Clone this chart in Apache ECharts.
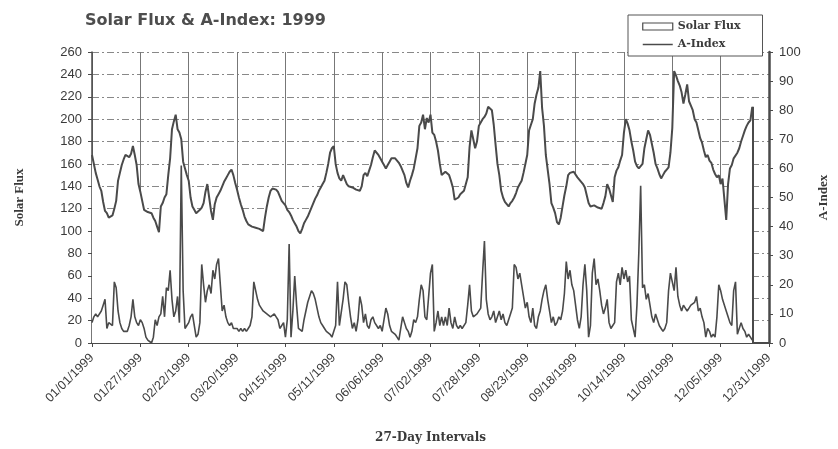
<!DOCTYPE html>
<html>
<head>
<meta charset="utf-8">
<script src="https://cdn.jsdelivr.net/npm/echarts@6/dist/echarts.min.js"></script>
<style>html,body{margin:0;padding:0;background:#fff}#c{width:838px;height:449px}</style>
</head>
<body>
<div id="c"></div>
<script>
// Categories: every day of 1999
const dates = [];
for (let i = 0; i < 365; i++) {
  const d = new Date(Date.UTC(1999, 0, 1 + i));
  const mm = String(d.getUTCMonth() + 1).padStart(2, '0');
  const dd = String(d.getUTCDate()).padStart(2, '0');
  dates.push(mm + '/' + dd + '/1999');
}

// Daily 10.7 cm solar flux (left axis), Jan 1 .. Dec 22
const solarFlux = [
168,160,152,146,140,136,126,118,116,112,113,114,120,127,145,152,159,164,168,167,
166,169,176,168,159,142,135,127,119,118,117,117,116,112,109,104,99,122,125,130,
133,150,165,191,198,204,191,188,182,162,156,150,145,130,122,119,116,117,119,121,
125,135,142,130,118,110,124,130,133,136,140,144,147,150,153,155,150,143,137,130,
124,119,113,109,106,105,104,104,103,103,102,101,100,112,122,130,136,138,139,137,
135,131,127,125,123,119,117,114,110,107,104,100,98,102,107,110,113,117,121,125,
129,132,136,139,142,145,152,160,170,174,176,160,152,147,145,150,146,142,140,139,
139,138,137,136,136,140,150,152,149,154,159,166,172,171,168,165,162,159,156,159,
162,165,166,165,165,161,158,154,150,143,139,145,150,156,165,174,194,197,204,191,
201,197,204,188,186,180,172,160,150,151,153,152,150,145,139,128,127,130,133,134,
136,142,148,175,190,182,174,180,194,197,200,202,205,211,210,208,195,177,160,150,
136,130,126,124,122,125,127,130,134,139,142,145,152,160,168,190,195,200,214,222,
228,243,210,194,168,155,142,125,121,116,108,106,112,122,132,140,150,152,152,153,
153,148,146,145,142,139,132,125,122,122,123,122,121,121,120,125,131,142,138,132,
126,148,154,157,163,168,188,200,196,190,180,172,162,158,156,158,160,174,182,190,
186,178,170,160,156,151,147,150,153,155,157,170,192,243,239,234,230,224,214,222,
231,216,212,208,200,197,190,183,179,172,166,168,163,161,155,151,148,150,142,147,
146,110,142,156,159,165,165,170,174,180,185,190,194,197,199,211
];

// Daily planetary A-index (right axis), Jan 1 .. Dec 22
const aIndex = [
7,9,10,9,9,11,13,15,5,7,7,6,21,19,11,7,5,4,4,4,
6,9,15,9,7,6,8,7,5,2,1,1,0,2,8,6,9,10,16,9,
19,18,25,15,9,11,16,7,61,18,5,6,7,9,10,6,2,3,7,27,
20,14,18,20,17,25,22,27,29,20,11,13,9,7,6,7,5,5,5,4,
5,4,5,4,5,6,9,21,18,15,13,12,11,11,10,10,9,9,10,9,
8,5,5,7,2,8,34,2,11,23,13,5,5,4,8,11,14,16,18,17,
15,12,9,7,6,5,4,4,3,2,4,6,21,6,6,15,21,20,14,9,
5,7,4,8,16,13,7,10,6,5,8,9,7,6,5,6,4,4,12,10,
6,4,4,3,2,1,5,9,7,5,4,2,4,8,7,9,15,20,18,9,
8,8,24,27,4,7,11,6,9,6,9,6,12,7,5,9,6,5,6,5,
5,7,13,20,11,9,9,10,10,12,24,35,15,10,8,9,11,7,9,11,
8,10,7,6,8,10,12,27,26,22,24,20,16,12,14,9,7,12,6,5,
9,11,15,18,20,15,11,7,9,6,7,9,8,11,17,28,22,25,20,18,
13,8,5,9,20,27,18,2,6,24,29,20,22,18,13,10,12,15,7,5,
6,7,21,24,20,26,22,25,21,23,8,5,2,13,31,54,19,20,15,17,
13,9,7,10,8,6,5,4,5,7,18,24,21,18,26,16,13,11,13,12,
11,12,13,13,14,16,11,12,9,7,2,5,4,2,3,2,9,20,18,15,
15,11,9,7,6,18,21,3,3,7,5,4,2,3,2,1
];

const fluxTicks = { min: 0, max: 260, step: 20 };
const aTicks = { min: 0, max: 100, step: 10 };

const lastIdx = solarFlux.length - 1;
const ink = '#4a4a4a';
const txt = '#3a3a3a';

const chart = echarts.init(document.getElementById('c'), null, { renderer: 'canvas' });
chart.setOption({
  backgroundColor: '#ffffff',
  animation: false,
  title: {
    text: 'Solar Flux & A-Index: 1999',
    left: 80, top: 8,
    textStyle: { fontFamily: 'DejaVu Sans', fontWeight: 'bold', fontSize: 16, color: '#4d4d4d' }
  },
  legend: {
    left: 628, top: 15,
    orient: 'vertical',
    padding: [6, 22, 6, 14],
    itemGap: 7,
    itemWidth: 30, itemHeight: 7,
    borderColor: '#555', borderWidth: 1,
    backgroundColor: '#fff',
    textStyle: { fontFamily: 'DejaVu Serif', fontWeight: 'bold', fontSize: 11, color: txt },
    data: [
      { name: 'Solar Flux', icon: 'rect', itemStyle: { color: '#fff', borderColor: ink, borderWidth: 1.2 } },
      { name: 'A-Index', itemStyle: { opacity: 0 }, lineStyle: { color: ink, width: 1.5, opacity: 1 } }
    ]
  },
  grid: { left: 92, right: 54, top: 52, bottom: 97, containLabel: false },
  xAxis: {
    type: 'category',
    data: dates,
    boundaryGap: false,
    name: '27-Day Intervals',
    nameLocation: 'middle',
    nameGap: 89,
    nameTextStyle: { fontFamily: 'DejaVu Serif', fontWeight: 'bold', fontSize: 12, color: txt },
    axisLine: { lineStyle: { color: ink, width: 2 } },
    axisTick: { interval: 25, length: 4, lineStyle: { color: ink } },
    axisLabel: { interval: 25, rotate: 45, fontFamily: 'Liberation Sans', fontSize: 12.5, color: txt, margin: 13 },
    splitLine: { show: true, interval: 25, lineStyle: { color: '#777', width: 1 } }
  },
  yAxis: [
    {
      type: 'value',
      min: fluxTicks.min, max: fluxTicks.max, interval: fluxTicks.step,
      name: 'Solar Flux',
      nameLocation: 'middle', nameRotate: 90, nameGap: 66,
      nameTextStyle: { fontFamily: 'Liberation Serif', fontWeight: 'bold', fontSize: 13, color: txt },
      axisLine: { show: true, lineStyle: { color: ink, width: 1.5 } },
      axisTick: { show: true, length: 4, lineStyle: { color: ink } },
      axisLabel: { fontFamily: 'Liberation Sans', fontSize: 13, color: txt, margin: 10 },
      splitLine: { show: true, lineStyle: { color: '#888', width: 1, type: [7, 3, 2, 3] } }
    },
    {
      type: 'value',
      position: 'right',
      min: aTicks.min, max: aTicks.max, interval: aTicks.step,
      name: 'A-Index',
      nameLocation: 'middle', nameRotate: 90, nameGap: 48,
      nameTextStyle: { fontFamily: 'Liberation Serif', fontWeight: 'bold', fontSize: 13, color: txt },
      axisLine: { show: true, lineStyle: { color: ink, width: 2.5 } },
      axisTick: { show: true, length: 4, lineStyle: { color: ink } },
      axisLabel: { fontFamily: 'Liberation Sans', fontSize: 13, color: txt, margin: 10 },
      splitLine: { show: false }
    }
  ],
  series: [
    {
      name: 'Solar Flux',
      type: 'line',
      yAxisIndex: 0,
      data: solarFlux,
      symbol: 'none',
      lineStyle: { color: ink, width: 2 },
      itemStyle: { color: '#fff', borderColor: ink },
      areaStyle: { color: '#ffffff', opacity: 1 },
      markLine: {
        silent: true, symbol: 'none', label: { show: false },
        lineStyle: { color: ink, width: 2, type: 'solid' },
        data: [[{ coord: [dates[lastIdx], 0] }, { coord: [dates[lastIdx], solarFlux[lastIdx]] }]]
      }
    },
    {
      name: 'A-Index',
      type: 'line',
      yAxisIndex: 1,
      data: aIndex,
      symbol: 'none',
      lineStyle: { color: ink, width: 1.6 },
      itemStyle: { color: ink }
    }
  ]
});
</script>
</body>
</html>
